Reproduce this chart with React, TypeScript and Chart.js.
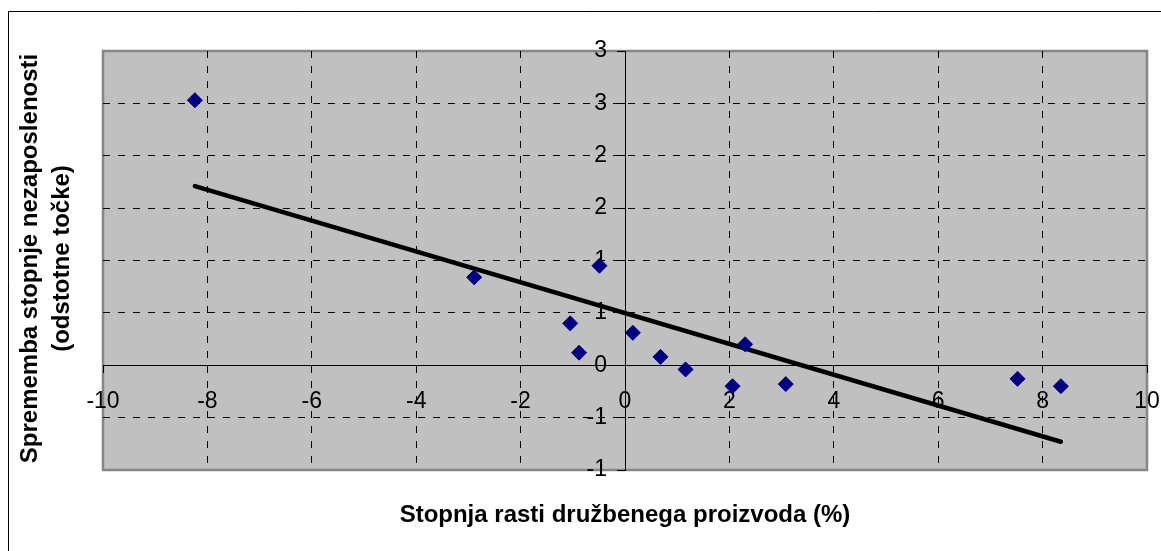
import React, { useEffect, useRef } from 'react';
import { Chart, registerables } from 'chart.js';

Chart.register(...registerables);

// Observed points: GDP growth rate (%) vs change of unemployment rate (percentage points)
const xValues = [-8.24, -2.89, -0.49, -1.05, -0.88, 0.15, 0.68, 1.16, 2.06, 2.30, 3.08, 7.52, 8.35];
const yValues = [2.53, 0.84, 0.95, 0.40, 0.12, 0.31, 0.08, -0.04, -0.20, 0.20, -0.18, -0.13, -0.20];

// Linear trend line end points
const trendX = [-8.24, 8.35];
const trendY = [1.71, -0.73];

// Axis ticks
const xTickLabels = ['-10', '-8', '-6', '-4', '-2', '0', '2', '4', '6', '8', '10'];
const yTickLabels = ['-1', '-1', '0', '1', '1', '2', '2', '3', '3'];

const xTitle = 'Stopnja rasti družbenega proizvoda (%)';
const yTitleLines = ['Sprememba stopnje nezaposlenosti', '(odstotne točke)'];

const FONT = '"Liberation Sans", Arial, Helvetica, sans-serif';

const framePlugin = {
  id: 'excelFrame',
  beforeDraw(chart: any) {
    const { ctx, chartArea, width, height } = chart;
    ctx.save();
    ctx.fillStyle = '#ffffff';
    ctx.fillRect(0, 0, width, height);
    // outer chart border
    ctx.strokeStyle = '#000000';
    ctx.lineWidth = 1;
    ctx.beginPath();
    ctx.moveTo(8.5, height + 2);
    ctx.lineTo(8.5, 11.5);
    ctx.lineTo(width + 2, 11.5);
    ctx.stroke();
    // plot area
    const { left, top, right, bottom } = chartArea;
    ctx.fillStyle = '#c0c0c0';
    ctx.fillRect(left, top, right - left, bottom - top);
    ctx.strokeStyle = '#868686';
    ctx.lineWidth = 2.5;
    ctx.strokeRect(left, top, right - left, bottom - top);
    ctx.restore();
  },
  afterDraw(chart: any) {
    const { ctx, chartArea } = chart;
    ctx.save();
    ctx.fillStyle = '#000000';
    ctx.font = `bold 24px ${FONT}`;
    ctx.textAlign = 'center';
    ctx.textBaseline = 'alphabetic';
    ctx.fillText(xTitle, (chartArea.left + chartArea.right) / 2, 522);
    const cy = (chartArea.top + chartArea.bottom) / 2 - 2;
    ctx.translate(0, cy);
    ctx.rotate(-Math.PI / 2);
    ctx.fillText(yTitleLines[0], 0, 37);
    ctx.fillText(yTitleLines[1], 0, 69);
    ctx.restore();
  },
};

const noOverflow = (scale: any) => {
  scale.paddingLeft = 0;
  scale.paddingRight = 0;
  scale.paddingTop = 0;
  scale.paddingBottom = 0;
};

export default function App() {
  const ref = useRef<HTMLCanvasElement | null>(null);

  useEffect(() => {
    if (!ref.current) return;
    const points = xValues.map((x, i) => ({ x, y: yValues[i] }));
    const trend = trendX.map((x, i) => ({ x, y: trendY[i] }));
    const edgeX = (c: any) => (c.tick && (c.tick.value === -10 || c.tick.value === 10) ? 'rgba(0,0,0,0)' : '#000000');
    const edgeY = (c: any) => (c.tick && (c.tick.value === -1 || c.tick.value === 3) ? 'rgba(0,0,0,0)' : '#000000');

    const chart = new Chart(ref.current, {
      type: 'scatter',
      data: {
        datasets: [
          {
            label: 'Podatki',
            data: points,
            backgroundColor: '#000080',
            borderColor: '#000080',
            pointStyle: 'rectRot',
            pointRadius: 7.5,
            borderWidth: 1,
            showLine: false,
            order: 1,
          },
          {
            label: 'Trend',
            data: trend,
            showLine: true,
            borderColor: '#000000',
            borderWidth: 4.5,
            borderCapStyle: 'round',
            pointRadius: 0,
            fill: false,
            order: 2,
          } as any,
        ],
      },
      options: {
        responsive: false,
        animation: false,
        devicePixelRatio: 1,
        layout: { padding: { left: 103, top: 51, right: 14, bottom: 81 } },
        plugins: {
          legend: { display: false },
          tooltip: { enabled: false },
          title: { display: false },
        },
        scales: {
          x: {
            type: 'linear',
            position: { y: 0 } as any,
            min: -10,
            max: 10,
            afterFit: noOverflow,
            ticks: {
              stepSize: 2,
              color: '#000000',
              font: { family: FONT, size: 23 },
              padding: 16,
              maxRotation: 0,
              autoSkip: false,
              callback: (_v: any, i: number) => xTickLabels[i],
            },
            grid: {
              color: edgeX,
              lineWidth: 1,
              tickLength: 7,
              tickColor: '#000000',
              drawTicks: true,
            },
            border: { display: true, color: '#000000', width: 1, dash: [7, 8] },
          },
          y: {
            type: 'linear',
            position: 'center',
            min: -1,
            max: 3,
            afterFit: noOverflow,
            ticks: {
              stepSize: 0.5,
              color: '#000000',
              font: { family: FONT, size: 23 },
              padding: 10,
              autoSkip: false,
              callback: (_v: any, i: number) => yTickLabels[i],
            },
            grid: {
              color: edgeY,
              lineWidth: 1,
              tickLength: 8,
              tickColor: '#000000',
              drawTicks: true,
            },
            border: { display: true, color: '#000000', width: 1, dash: [7, 8] },
          },
        },
      },
      plugins: [framePlugin],
    });
    return () => chart.destroy();
  }, []);

  return (
    <div style={{ position: 'absolute', left: 0, top: 0, width: 1161, height: 551, background: '#fff' }}>
      <canvas ref={ref} width={1161} height={551} style={{ display: 'block', width: 1161, height: 551 }} />
    </div>
  );
}
